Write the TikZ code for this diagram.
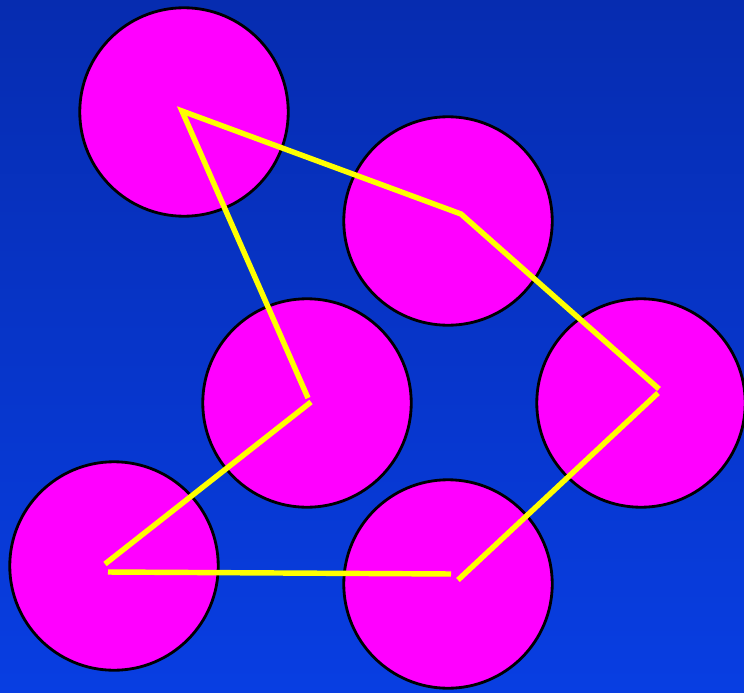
\documentclass[tikz,border=0pt]{standalone}
\definecolor{bgtop}{RGB}{6,44,176}
\definecolor{bgbot}{RGB}{8,62,226}
\definecolor{ballpink}{RGB}{255,0,255}
\definecolor{linkyellow}{RGB}{255,255,0}
\tikzset{
  ball/.style={circle,draw=black,line width=1.6pt,fill=ballpink,minimum size=4.17cm,inner sep=0pt},
  link/.style={linkyellow,line width=3.1pt}
}
\begin{document}
\begin{tikzpicture}[x=0.02cm,y=-0.02cm]
  \useasboundingbox (0,0) rectangle (744,693);
  \shade[top color=bgtop,bottom color=bgbot] (0,0) rectangle (744,693);
  % balls
  \node[ball] (b1) at (184,112) {};
  \node[ball] (b2) at (448,221) {};
  \node[ball] (b3) at (307,403) {};
  \node[ball] (b4) at (641,403) {};
  \node[ball] (b5) at (114,566) {};
  \node[ball] (b6) at (448,584) {};
  % link ends
  \coordinate (p1) at (182,111);
  \coordinate (p2) at (461,214);
  \coordinate (p3a) at (659,389);
  \coordinate (p3b) at (658,393);
  \coordinate (p4) at (458,580);
  \coordinate (p6a) at (451,574);
  \coordinate (p6b) at (108,572);
  \coordinate (p5) at (105,564);
  \coordinate (p7a) at (308,398);
  \coordinate (p7b) at (311,402);
  % links
  \draw[link] (p7a) -- (p1) -- (p2) -- (p3a);
  \draw[link] (p3b) -- (p4);
  \draw[link] (p6a) -- (p6b);
  \draw[link] (p5) -- (p7b);
\end{tikzpicture}
\end{document}
